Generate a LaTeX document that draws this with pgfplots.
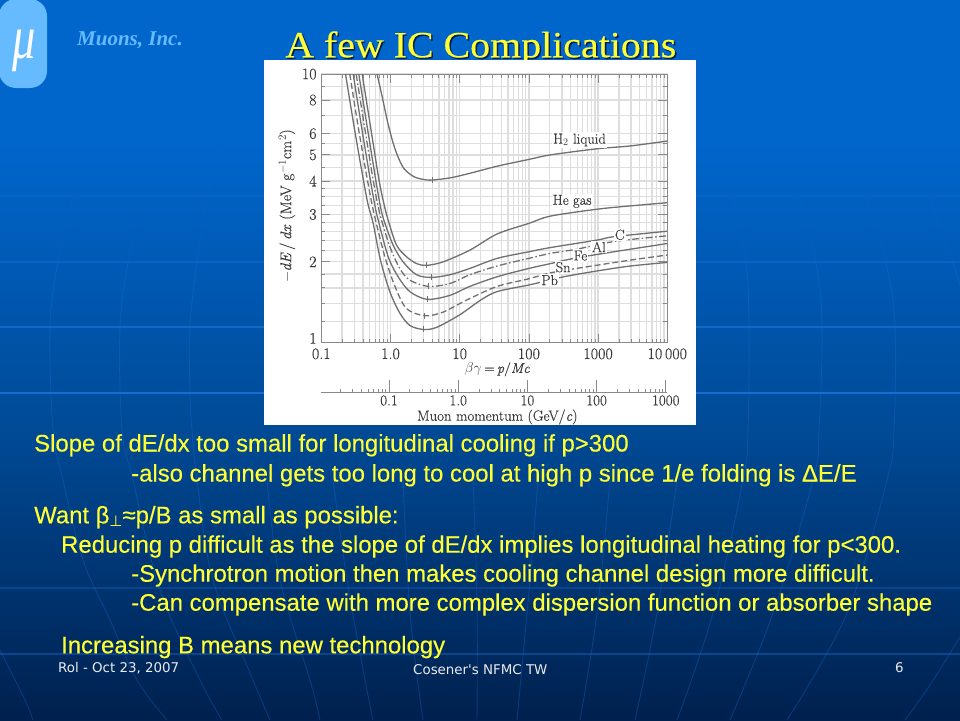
\documentclass[border=0pt]{standalone}
\usepackage{fontspec}
\usepackage{pgfplots}
\pgfplotsset{compat=1.18}
\newfontfamily\bodyfont[FakeBold=0.25]{Liberation Sans}
\newfontfamily\titlefont[FakeBold=0.3]{Liberation Serif}
\newfontfamily\logofont{Liberation Serif}
\newfontfamily\footfont{DejaVu Sans}
\newfontfamily\chartfont[FakeBold=0.4]{Latin Modern Roman}
\definecolor{curve}{HTML}{707070}
\definecolor{gridc}{HTML}{DEDEDE}
\definecolor{axisc}{HTML}{8A8A8A}
\definecolor{labelc}{HTML}{3A3A3A}
\definecolor{slideline}{HTML}{1A70D8}
\definecolor{sky}{HTML}{66BBFF}
\definecolor{txty}{HTML}{FFFF33}
\pgfplotsset{dedx/.style={curve,line width=1.3pt,smooth,tension=0.5,mark=none}}
\newcommand\meridians{%
 \foreach \c in {
  {(73,-196)(58,-262)(50,-327)(53,-430)(63,-480)(83,-560)(110,-620)(137,-680)(167,-720)},
  {(137,-213)(128,-262)(120,-327)(122,-430)(133,-480)(160,-590)(200,-680)(222,-720)},
  {(220,-147)(207,-196)(197,-262)(190,-327)(190,-393)(192,-430)(197,-480)(213,-580)(253,-680)(270,-720)},
  {(267,-480)(280,-580)(310,-680)(320,-720)},
  {(333,-480)(347,-580)(365,-680)(373,-720)},
  {(403,-480)(410,-613)(423,-720)},
  {(473,-480)(477,-600)(477,-720)},
  {(538,-480)(530,-580)(517,-720)},
  {(610,-480)(597,-613)(580,-720)},
  {(677,-480)(657,-613)(635,-720)},
  {(733,-197)(746,-263)(749,-327)(748,-430)(743,-480)(713,-613)(677,-720)},
  {(799,-197)(816,-263)(822,-327)(819,-430)(813,-480)(773,-613)(730,-720)},
  {(866,-197)(886,-263)(895,-327)(894,-430)(887,-480)(847,-613)(787,-720)},
  {(929,-197)(953,-263)(963,-297)},
  {(960,-637)(930,-685)(905,-720)},
  {(0,-650)(25,-700)(33,-720)}}
  {\draw[slideline,line width=0.9pt] plot[smooth,tension=0.6] coordinates {\c};}%
}
\begin{document}
\begin{tikzpicture}
\begin{scope}[x=1pt,y=1pt]
\path[use as bounding box] (0,0) rectangle (960,-720);
% slide background
\fill[fill={rgb,255:red,0;green,102;blue,204}] (0,0) rectangle (960,-140.5);
\shade[top color={rgb,255:red,0;green,102;blue,204},bottom color={rgb,255:red,0;green,74;blue,150}] (0,-140) rectangle (960,-430.5);
\shade[top color={rgb,255:red,0;green,74;blue,150},bottom color={rgb,255:red,0;green,32;blue,78}] (0,-430) rectangle (960,-720);
\begin{scope}
 \clip (0,-130) rectangle (960,-262);
 \begin{scope}[opacity=0.12]\meridians\end{scope}
\end{scope}
\begin{scope}
 \clip (0,-262) rectangle (960,-720);
 \begin{scope}[opacity=0.32]\meridians\end{scope}
\end{scope}
\foreach \yy/\op in {196/0.2,262/0.45,327/0.7,393/0.9,588/0.3,654/0.4}
 \draw[slideline,line width=1.6pt,opacity=\op] (0,-\yy) -- (960,-\yy);
% logo
\fill[sky,rounded corners=17pt] (-1,1) rectangle (47,-88);
\node[white,anchor=center] at (24,-51) {\logofont\itshape\fontsize{62}{62}\selectfont\scalebox{0.75}[1]{μ}};
\node[sky,anchor=base west,inner sep=0pt] at (77,-45.7) {\logofont\bfseries\itshape\fontsize{21}{24}\selectfont Muons, Inc.};
% title, the panel covers its descender
\node[anchor=base west,inner sep=0pt,text={rgb,255:red,0;green,32;blue,90}] at (286.5,-58.8) {\titlefont\fontsize{37}{40}\selectfont\scalebox{1.078}[1]{A few IC Complications}};
\node[anchor=base west,inner sep=0pt,text=txty] at (285,-57.3) {\titlefont\fontsize{37}{40}\selectfont\scalebox{1.078}[1]{A few IC Complications}};
% white panel
\fill[white] (264,-60) rectangle (696,-425);
\end{scope}
\begin{axis}[
  at={(321.3pt,-342.7pt)}, anchor=south west,
  scale only axis, width=346pt, height=268.7pt,
  xmode=log, ymode=log, log basis x=10, log basis y=10,
  xmin=0.1, xmax=10000, ymin=1, ymax=10,
  xtick={0.1,1,10,100,1000,10000},
  xticklabels={0.1,1.0,10,100,1000,10\,000},
  minor xtick={0.2,0.3,0.4,0.5,0.6,0.7,0.8,0.9,2,3,4,5,6,7,8,9,20,30,40,50,60,70,80,90,200,300,400,500,600,700,800,900,2000,3000,4000,5000,6000,7000,8000,9000},
  ytick={1,2,3,4,5,6,8,10},
  yticklabels={\raisebox{-1pt}[0pt][0pt]{1},2,3,4,5,6,8,10},
  minor ytick={1.2,1.4,1.6,1.8,2.2,2.4,2.6,2.8,3.25,3.5,3.75,4.5,5.5,7,9},
  grid=both,
  major grid style={gridc,line width=1.3pt},
  minor grid style={gridc,line width=1.3pt},
  axis line style={axisc,line width=1pt},
  tick style={axisc,line width=0.8pt},
  major tick length=9pt, minor tick length=4pt,
  tick align=inside,
  tick label style={font=\chartfont\fontsize{16}{16}\selectfont,text=labelc,inner sep=0.5pt},
  xticklabel shift=5pt, yticklabel shift=4pt,
]
% H2 liquid
\addplot[dedx] coordinates {(0.64,10)(0.758,8.23)(0.895,6.74)(1.06,5.68)(1.25,5.0)(1.56,4.45)(2.17,4.15)(3.03,4.05)(4.0,4.03)(7.4,4.11)(14,4.27)(35,4.54)(100,4.81)(205,5.0)(970,5.27)(2950,5.40)(10000,5.63)};
% He gas
\addplot[dedx] coordinates {(0.39,10)(0.514,6.37)(0.678,4.07)(0.801,3.30)(0.925,2.86)(1.22,2.31)(1.70,2.09)(2.38,1.97)(3.31,1.94)(5.77,2.00)(14,2.21)(34.8,2.54)(100,2.78)(205,2.96)(970,3.14)(2940,3.23)(10000,3.32)};
% C
\addplot[dedx] coordinates {(0.348,10)(0.46,6.37)(0.607,4.09)(0.716,3.21)(0.801,2.86)(1.09,2.31)(1.52,2.00)(2.38,1.79)(3.91,1.75)(7.2,1.79)(14,1.89)(34.8,2.06)(100,2.18)(205,2.26)(970,2.41)(1690,2.48)(10000,2.60)};
% Al
\addplot[dedx,dash pattern=on 7pt off 2.5pt on 1.5pt off 2.5pt] coordinates {(0.319,10)(0.421,6.37)(0.556,4.09)(0.656,3.25)(0.741,2.86)(0.977,2.28)(1.36,1.89)(1.90,1.71)(3.50,1.62)(7.2,1.66)(14,1.79)(34.8,1.93)(100,2.06)(205,2.15)(498,2.23)(1690,2.38)(10000,2.50)};
% Fe
\addplot[dedx] coordinates {(0.289,10)(0.381,6.37)(0.502,4.15)(0.594,3.25)(0.664,2.86)(0.925,2.09)(1.29,1.76)(1.90,1.55)(3.39,1.45)(7.2,1.50)(14,1.62)(34.8,1.76)(100,1.89)(205,1.97)(446,2.06)(1350,2.16)(10000,2.34)};
% Sn
\addplot[dedx,dash pattern=on 6pt off 3pt] coordinates {(0.258,10)(0.341,6.37)(0.45,4.21)(0.531,3.35)(0.607,2.86)(0.828,2.09)(1.16,1.62)(1.70,1.34)(3.13,1.26)(5.77,1.30)(12.5,1.44)(34.8,1.62)(100,1.73)(205,1.82)(557,1.90)(2940,2.03)(10000,2.12)};
% Pb
\addplot[dedx] coordinates {(0.224,10)(0.295,6.46)(0.39,4.27)(0.47,3.30)(0.562,2.78)(0.716,2.03)(0.977,1.55)(1.36,1.29)(1.90,1.16)(2.97,1.12)(4.62,1.14)(10,1.27)(20,1.44)(34.8,1.55)(100,1.64)(164,1.69)(320,1.76)(970,1.85)(2940,1.93)(10000,1.99)};
% minimum ionization marks
\addplot[only marks,mark=|,mark size=3pt,mark options={curve,solid,line width=0.8pt}] coordinates {(4.0,4.03)(3.31,1.94)(3.91,1.75)(3.50,1.62)(3.39,1.45)(3.13,1.26)(2.97,1.12)};
\begin{scope}[every node/.style={fill=white,inner sep=1.2pt,text=labelc,font=\chartfont\fontsize{14.5}{14.5}\selectfont}]
\node at (axis cs:538,5.68) {H$_2$ liquid};
\node at (axis cs:422,3.36) {He gas};
\node at (axis cs:2060,2.52) {C};
\node at (axis cs:1025,2.27) {Al};
\node at (axis cs:557,2.11) {Fe};
\node at (axis cs:313,1.91) {Sn};
\node at (axis cs:200,1.71) {Pb};
\end{scope}
\end{axis}
% muon momentum scale
\begin{axis}[
  at={(321.3pt,-392.7pt)}, anchor=south west,
  scale only axis, width=345.5pt, height=20pt,
  xmode=log, log basis x=10,
  xmin=0.0105, xmax=1035, ymin=0, ymax=1,
  axis x line*=bottom, hide y axis,
  xtick={0.1,1,10,100,1000},
  xticklabels={0.1,1.0,10,100,1000},
  minor xtick={0.02,0.03,0.04,0.05,0.06,0.07,0.08,0.09,0.2,0.3,0.4,0.5,0.6,0.7,0.8,0.9,2,3,4,5,6,7,8,9,20,30,40,50,60,70,80,90,200,300,400,500,600,700,800,900},
  axis line style={axisc,line width=1pt},
  tick style={axisc,line width=0.8pt},
  major tick length=12.5pt, minor tick length=4pt,
  tick align=inside,
  tick label style={font=\chartfont\fontsize{15}{15}\selectfont,text=labelc,inner sep=0.5pt},
  xticklabel shift=2pt,
]
\addplot[draw=none] coordinates {(0.1,0)(1000,1)};
\end{axis}
\begin{scope}[x=1pt,y=1pt]
\node[rotate=90,text=labelc,inner sep=0pt] at (287,-206) {\chartfont\fontsize{15.5}{15.5}\selectfont $-$\textit{dE}\,/\,\textit{dx} (MeV g$^{-1}$cm$^2$)};
\node[text=labelc,inner sep=0pt] at (497.3,-369.3) {\chartfont\fontsize{14}{14}\selectfont $\beta\gamma$\,=\,\textit{p}/\textit{Mc}};
\node[text=labelc,inner sep=0pt] at (497.3,-417) {\chartfont\fontsize{14.8}{14.8}\selectfont Muon momentum (GeV/\textit{c})};
% slide text
\begin{scope}[every node/.style={anchor=base west,inner sep=0pt,text=txty,font=\bodyfont\fontsize{23.9}{26}\selectfont}]
\node at (34,-451.5) {Slope of dE/dx too small for longitudinal cooling if p>300};
\node at (131,-481.5) {-also channel gets too long to cool at high p since 1/e folding is ΔE/E};
\node at (34,-523.3) {Want β{\footfont\fontsize{15}{15}\selectfont\raisebox{-3pt}{⊥}}≈p/B as small as possible:};
\node at (61,-552.7) {Reducing p difficult as the slope of dE/dx implies longitudinal heating for p<300.};
\node at (131,-581.7) {-Synchrotron motion then makes cooling channel design more difficult.};
\node at (131,-610.7) {-Can compensate with more complex dispersion function or absorber shape};
\node at (61,-653.3) {Increasing B means new technology};
\end{scope}
\begin{scope}[every node/.style={anchor=base west,inner sep=0pt,text={rgb,255:red,235;green,235;blue,235},font=\footfont\fontsize{13.4}{15}\selectfont}]
\node at (58,-672.7) {Rol - Oct 23, 2007};
\node at (413,-674) {Cosener's NFMC TW};
\node at (895,-672) {6};
\end{scope}
\end{scope}
\end{tikzpicture}
\end{document}
